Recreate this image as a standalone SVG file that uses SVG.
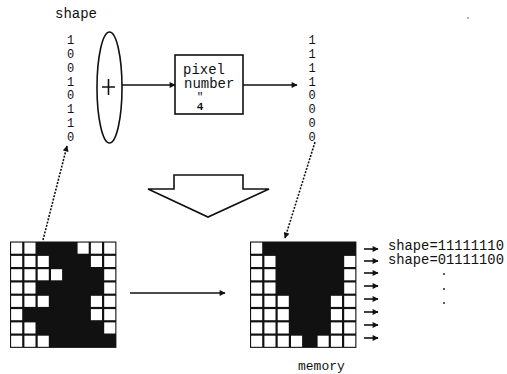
<svg xmlns="http://www.w3.org/2000/svg" xmlns:xlink="http://www.w3.org/1999/xlink" width="507" height="374" viewBox="0 0 507 374">
<style>
.t{font-family:"Liberation Mono","DejaVu Sans Mono",monospace;fill:#111}
.d{font-size:12px}
.ln{stroke:#111;stroke-width:1.6;fill:none}
.dot{stroke:#111;stroke-width:1.6;fill:none;stroke-dasharray:2 1.4}
</style>
<defs>
<marker id="ah" viewBox="0 0 10 10" refX="9" refY="5" markerWidth="7" markerHeight="6" orient="auto" markerUnits="userSpaceOnUse">
<path d="M0,0 L10,5 L0,10 Z" fill="#111"/>
</marker>
<rect id="w" width="11.1" height="11.1" fill="#fff"/>
</defs>
<rect width="507" height="374" fill="#fff"/>

<text class="t" x="55" y="18" font-size="14">shape</text>

<g id="inputBits" class="t d" text-anchor="middle">
<text x="70.5" y="44">1</text>
<text x="70.5" y="57.9">0</text>
<text x="70.5" y="71.7">0</text>
<text x="70.5" y="85.6">1</text>
<text x="70.5" y="99.4">0</text>
<text x="70.5" y="113.3">1</text>
<text x="70.5" y="127.1">1</text>
<text x="70.5" y="141">0</text>
</g>

<g id="adder">
<ellipse cx="109.5" cy="87.5" rx="12.5" ry="55.5" class="ln"/>
<path d="M102 87H115M108.5 79V95" class="ln" stroke-width="1.2"/>
</g>

<g id="pixelBox">
<rect x="175" y="55" width="68" height="59" class="ln"/>
<text class="t" x="183" y="74" font-size="14">pixel</text>
<text class="t" x="184" y="87.5" font-size="14">number</text>
<text class="t" x="200" y="100" font-size="11" text-anchor="middle">"</text>
<text class="t" x="200" y="110" font-size="11" text-anchor="middle" font-weight="bold">4</text>
</g>

<g id="outputBits" class="t d" text-anchor="middle">
<text x="312" y="44">1</text>
<text x="312" y="57.9">1</text>
<text x="312" y="71.7">1</text>
<text x="312" y="85.6">1</text>
<text x="312" y="99.4">0</text>
<text x="312" y="113.3">0</text>
<text x="312" y="127.1">0</text>
<text x="312" y="141">0</text>
</g>

<g id="bigArrow">
<polygon points="174,175 243,175 243,189 269,189 208,217 148,189 174,189" fill="#fff" stroke="#111" stroke-width="1.6" stroke-linejoin="miter"/>
</g>

<g id="gridLeft" transform="translate(10,241.5)">
<rect width="106.4" height="106.4" fill="#111"/>
<use xlink:href="#w" x="1.1" y="1.1"/><use xlink:href="#w" x="14.4" y="1.1"/><use xlink:href="#w" x="67.6" y="1.1"/><use xlink:href="#w" x="80.9" y="1.1"/><use xlink:href="#w" x="94.2" y="1.1"/>
<use xlink:href="#w" x="1.1" y="14.4"/><use xlink:href="#w" x="14.4" y="14.4"/><use xlink:href="#w" x="27.7" y="14.4"/><use xlink:href="#w" x="80.9" y="14.4"/><use xlink:href="#w" x="94.2" y="14.4"/>
<use xlink:href="#w" x="1.1" y="27.7"/><use xlink:href="#w" x="14.4" y="27.7"/><use xlink:href="#w" x="27.7" y="27.7"/><use xlink:href="#w" x="41" y="27.7"/><use xlink:href="#w" x="94.2" y="27.7"/>
<use xlink:href="#w" x="1.1" y="41"/><use xlink:href="#w" x="14.4" y="41"/><use xlink:href="#w" x="94.2" y="41"/>
<use xlink:href="#w" x="1.1" y="54.3"/><use xlink:href="#w" x="14.4" y="54.3"/><use xlink:href="#w" x="27.7" y="54.3"/><use xlink:href="#w" x="80.9" y="54.3"/><use xlink:href="#w" x="94.2" y="54.3"/>
<use xlink:href="#w" x="1.1" y="67.6"/><use xlink:href="#w" x="80.9" y="67.6"/><use xlink:href="#w" x="94.2" y="67.6"/>
<use xlink:href="#w" x="1.1" y="80.9"/><use xlink:href="#w" x="14.4" y="80.9"/><use xlink:href="#w" x="94.2" y="80.9"/>
<use xlink:href="#w" x="1.1" y="94.2"/><use xlink:href="#w" x="14.4" y="94.2"/><use xlink:href="#w" x="27.7" y="94.2"/>
</g>

<g id="gridRight" transform="translate(250,241.5)">
<rect width="106.4" height="106.4" fill="#111"/>
<use xlink:href="#w" x="1.1" y="1.1"/>
<use xlink:href="#w" x="1.1" y="14.4"/><use xlink:href="#w" x="14.4" y="14.4"/><use xlink:href="#w" x="94.2" y="14.4"/>
<use xlink:href="#w" x="1.1" y="27.7"/><use xlink:href="#w" x="14.4" y="27.7"/><use xlink:href="#w" x="94.2" y="27.7"/>
<use xlink:href="#w" x="1.1" y="41"/><use xlink:href="#w" x="14.4" y="41"/><use xlink:href="#w" x="94.2" y="41"/>
<use xlink:href="#w" x="1.1" y="54.3"/><use xlink:href="#w" x="14.4" y="54.3"/><use xlink:href="#w" x="27.7" y="54.3"/><use xlink:href="#w" x="80.9" y="54.3"/><use xlink:href="#w" x="94.2" y="54.3"/>
<use xlink:href="#w" x="1.1" y="67.6"/><use xlink:href="#w" x="14.4" y="67.6"/><use xlink:href="#w" x="27.7" y="67.6"/><use xlink:href="#w" x="80.9" y="67.6"/><use xlink:href="#w" x="94.2" y="67.6"/>
<use xlink:href="#w" x="1.1" y="80.9"/><use xlink:href="#w" x="14.4" y="80.9"/><use xlink:href="#w" x="27.7" y="80.9"/><use xlink:href="#w" x="80.9" y="80.9"/><use xlink:href="#w" x="94.2" y="80.9"/>
<use xlink:href="#w" x="1.1" y="94.2"/><use xlink:href="#w" x="14.4" y="94.2"/><use xlink:href="#w" x="27.7" y="94.2"/><use xlink:href="#w" x="41" y="94.2"/><use xlink:href="#w" x="67.6" y="94.2"/><use xlink:href="#w" x="80.9" y="94.2"/><use xlink:href="#w" x="94.2" y="94.2"/>
</g>

<g id="connectors">
<line x1="122" y1="85" x2="175" y2="85" class="ln" marker-end="url(#ah)"/>
<line x1="243" y1="85" x2="297" y2="85" class="ln" marker-end="url(#ah)"/>
<line x1="43" y1="240" x2="67" y2="146" class="dot" marker-end="url(#ah)"/>
<line x1="315" y1="142" x2="285" y2="238" class="dot" marker-end="url(#ah)"/>
<line x1="130" y1="293" x2="225" y2="293" class="ln" stroke-width="1.3" marker-end="url(#ah)"/>
<g class="ln" stroke-width="1.3">
<line x1="364" y1="249" x2="378" y2="249" marker-end="url(#ah)"/>
<line x1="364" y1="261" x2="378" y2="261" marker-end="url(#ah)"/>
<line x1="364" y1="273" x2="378" y2="273" marker-end="url(#ah)"/>
<line x1="364" y1="286" x2="378" y2="286" marker-end="url(#ah)"/>
<line x1="364" y1="299" x2="378" y2="299" marker-end="url(#ah)"/>
<line x1="364" y1="312" x2="378" y2="312" marker-end="url(#ah)"/>
<line x1="364" y1="325" x2="378" y2="325" marker-end="url(#ah)"/>
<line x1="364" y1="338" x2="378" y2="338" marker-end="url(#ah)"/>
</g>
</g>

<g id="memoryLabels">
<text class="t" x="388" y="250" font-size="13.8">shape=11111110</text>
<text class="t" x="388" y="264" font-size="13.8">shape=01111100</text>
<circle cx="444" cy="274" r="0.9" fill="#111"/>
<circle cx="444" cy="289" r="0.9" fill="#111"/>
<circle cx="444" cy="303" r="0.9" fill="#111"/>
<text class="t" x="298" y="370" font-size="13">memory</text>
</g>
<circle cx="468" cy="18" r="0.7" fill="#333"/>
</svg>
